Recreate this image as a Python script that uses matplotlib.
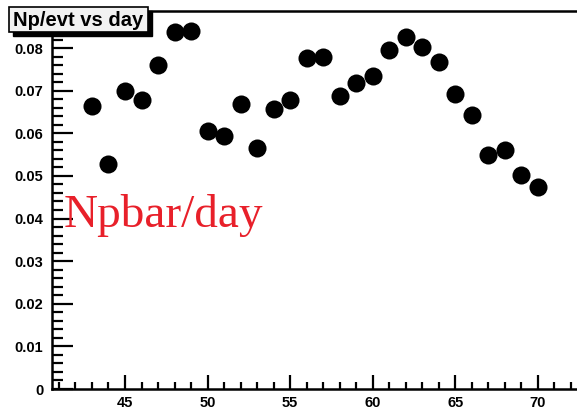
import matplotlib
matplotlib.use("Agg")
import matplotlib.pyplot as plt
from matplotlib.ticker import MultipleLocator, FixedLocator
from matplotlib.patches import Rectangle

days = [43, 44, 45, 46, 47, 48, 49, 50, 51, 52, 53, 54, 55, 56,
        57, 58, 59, 60, 61, 62, 63, 64, 65, 66, 67, 68, 69, 70]
np_per_evt = [0.0664, 0.0529, 0.0699, 0.0678, 0.0761, 0.0837, 0.0841,
              0.0605, 0.0593, 0.0669, 0.0566, 0.0657, 0.0678, 0.0776,
              0.0779, 0.0688, 0.0718, 0.0735, 0.0796, 0.0826, 0.0802,
              0.0768, 0.0692, 0.0643, 0.0548, 0.0560, 0.0501, 0.0473]
x_ticks = [45, 50, 55, 60, 65, 70]
y_ticks = [0, 0.01, 0.02, 0.03, 0.04, 0.05, 0.06, 0.07, 0.08]
y_tick_labels = ["0", "0.01", "0.02", "0.03", "0.04", "0.05", "0.06", "0.07", "0.08"]
title = "Np/evt vs day"
note = "Npbar/day"

W, H = 577, 411
fig = plt.figure(figsize=(W / 100, H / 100), dpi=100)

left_px, right_px, top_px, bottom_px = 51.7, 577, 11, 389
ax = fig.add_axes([left_px / W, 1 - bottom_px / H,
                   (right_px - left_px) / W, (bottom_px - top_px) / H])
ax.set_xlim(40.56, 72.38)
ax.set_ylim(0, 0.0887)

ax.plot(days, np_per_evt, "o", color="black", markersize=13,
        markeredgewidth=0, zorder=3)

for side in ("left", "bottom", "top"):
    ax.spines[side].set_linewidth(1.8)
ax.spines["right"].set_visible(False)

ax.xaxis.set_major_locator(FixedLocator(x_ticks))
ax.xaxis.set_minor_locator(MultipleLocator(1))
ax.yaxis.set_major_locator(FixedLocator(y_ticks))
ax.yaxis.set_minor_locator(MultipleLocator(0.002))
ax.set_xticklabels([str(v) for v in x_ticks])
ax.set_yticklabels(y_tick_labels)

ax.tick_params(axis="both", which="both", direction="in", color="black",
               top=False, right=False)
ax.tick_params(axis="x", which="major", length=10, width=1.6, pad=5)
ax.tick_params(axis="x", which="minor", length=5, width=1.6)
ax.tick_params(axis="y", which="major", length=15, width=1.6, pad=6)
ax.tick_params(axis="y", which="minor", length=8, width=1.6)
for lab in ax.get_xticklabels() + ax.get_yticklabels():
    lab.set_fontfamily("Liberation Sans")
    lab.set_fontweight("bold")
    lab.set_fontsize(10.5)

ax.text(41.3, 0.0381, note, color="#e8202a", fontfamily="Liberation Serif",
        fontsize=34, ha="left", va="baseline", zorder=4)

# title box with a drop shadow
bx0, by0, bw, bh = 9, 7, 139, 25
shadow = Rectangle(((bx0 + 4) / W, 1 - (by0 + bh + 4) / H), bw / W, bh / H,
                   transform=fig.transFigure, facecolor="black",
                   edgecolor="black", zorder=5)
box = Rectangle((bx0 / W, 1 - (by0 + bh) / H), bw / W, bh / H,
                transform=fig.transFigure, facecolor="#f2f2f2",
                edgecolor="black", linewidth=1.2, zorder=6)
fig.add_artist(shadow)
fig.add_artist(box)
fig.text((bx0 + bw / 2) / W, 1 - (by0 + bh / 2 + 1) / H, title,
         fontfamily="Liberation Sans", fontweight="bold", fontsize=14.5,
         ha="center", va="center", zorder=7)

fig.savefig("out.png", dpi=100)
